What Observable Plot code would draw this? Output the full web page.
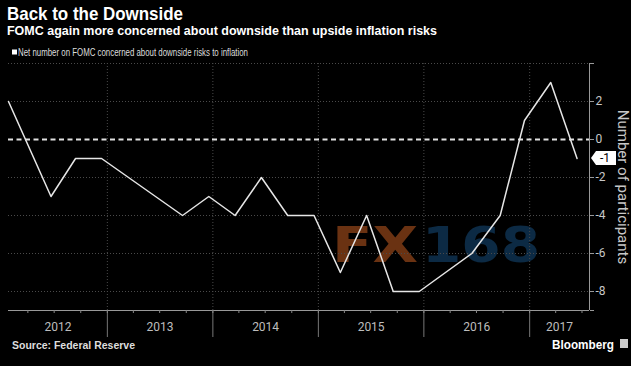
<!DOCTYPE html>
<html><head><meta charset="utf-8">
<script src="https://cdn.jsdelivr.net/npm/d3@7"></script>
<script src="https://cdn.jsdelivr.net/npm/@observablehq/plot@0.6"></script>
<style>
html,body{margin:0;padding:0;background:#000;}
#wrap{position:relative;width:631px;height:366px;overflow:hidden;background:#000;}
#wm{position:absolute;left:0;top:60px;z-index:0;}
#header{position:absolute;left:0;top:0;z-index:1;}
#chart{position:absolute;left:0;top:60px;z-index:1;}
#footer{position:absolute;left:0;top:338px;z-index:1;}
svg{display:block;}
</style></head>
<body><div id="wrap"><div id="header"></div><div id="wm"></div><div id="chart"></div><div id="footer"></div></div>
<script>
// ---- data ----
const meetingDates = ["2012-01-25","2012-06-20","2012-09-13","2012-12-12","2013-09-18","2013-12-18","2014-03-19","2014-06-18","2014-09-17","2014-12-17","2015-03-18","2015-06-17","2015-09-17","2015-12-16","2016-06-15","2016-09-21","2016-12-14","2017-03-15","2017-06-14"];
const netDownside = [2,-3,-1,-1,-4,-3,-4,-2,-4,-4,-7,-4,-8,-8,-6,-4,1,3,-1];
const years = [2012,2013,2014,2015,2016,2017];
const yTickLabels = [2,0,-2,-4,-6,-8];
const yGridValues = [4,2,-2,-4,-6,-8];
const xDomain = [new Date("2012-01-25"), new Date("2017-07-27")];
const yDomain = [-9, 4];

const data = meetingDates.map((d,i)=>({date:new Date(d), value:netDownside[i]}));
const last = data[data.length-1];
const yearStarts = years.slice(1).map(y=>new Date(Date.UTC(y,0,1)));
const quarters = d3.utcMonth.every(3).range(xDomain[0], xDomain[1]);
const yearLabels = years.map(y=>{
  const a = Math.max(Date.UTC(y,0,1), +xDomain[0]);
  const b = Math.min(Date.UTC(y+1,0,1), +xDomain[1]);
  return {year:String(y), date:new Date((a+b)/2)};
});

const chart = Plot.plot({
  width:631, height:278,
  marginTop:3, marginBottom:28, marginLeft:8, marginRight:42,
  style:{background:"transparent", color:"#c8c8c8", fontFamily:"Roboto, sans-serif", fontSize:"12px"},
  x:{type:"utc", domain:xDomain, axis:null},
  y:{domain:yDomain, axis:null},
  marks:[
    Plot.ruleY(yGridValues, {stroke:"#4a4a4a", strokeDasharray:"1,2"}),
    Plot.ruleX(yearStarts, {stroke:"#4a4a4a", strokeDasharray:"1,2"}),
    Plot.ruleY([0], {stroke:"#e0e0e0", strokeWidth:1.8, strokeDasharray:"5,3.5"}),
    Plot.line(data, {x:"date", y:"value", stroke:"#e6e6e6", strokeWidth:1.5}),
    Plot.ruleY([yDomain[0]], {stroke:"#999"}),
    Plot.ruleX([xDomain[1]], {stroke:"#999"}),
    Plot.axisX({ticks:yearStarts, tickSize:27, tickFormat:()=>"", stroke:"#777"}),
    Plot.axisX({ticks:quarters, tickSize:3, tickFormat:()=>"", stroke:"#888"}),
    Plot.text(yearLabels, {x:"date", frameAnchor:"bottom", dy:20, text:"year", fill:"#bdbdbd", fontSize:12}),
    Plot.axisY({anchor:"right", ticks:yTickLabels, tickSize:4, tickPadding:2, tickFormat:d=>String(d), label:null, stroke:"#999", fill:"#c8c8c8", fontSize:12}),
    Plot.axisY({anchor:"right", ticks:[yDomain[1], yDomain[0]], tickSize:4, tickFormat:()=>"", label:null, stroke:"#999"}),
    Plot.text(["Number of participants"], {frameAnchor:"right", textAnchor:"middle", dx:33, rotate:90, fontSize:15, fill:"#c8c8c8"}),
    (index, scales, values, dims) => {
      const g = d3.create("svg:g");
      const yy = scales.y(last.value);
      const x0 = dims.width - dims.marginRight;
      g.append("path").attr("d", `M${x0+2},${yy} L${x0+7},${yy-7} L${x0+27},${yy-7} L${x0+27},${yy+7} L${x0+7},${yy+7} Z`).attr("fill","#fff");
      g.append("text").attr("x", x0+16).attr("y", yy).attr("dy","0.36em").attr("text-anchor","middle")
        .attr("fill","#000").attr("font-size",12).attr("font-family","Roboto, sans-serif").text(String(last.value));
      return g.node();
    }
  ]
});
document.getElementById("chart").append(chart);

function mk(sel, h, fam){
  return d3.select(sel).append("svg").attr("width",631).attr("height",h)
    .attr("font-family", fam);
}
function txt(svg, s, x, y, size, w, fill, bold){
  return svg.append("text").attr("x",x).attr("y",y).attr("font-size",size)
    .attr("font-weight", bold ? "bold" : "normal").attr("fill",fill)
    .attr("textLength",w).attr("lengthAdjust","spacingAndGlyphs").text(s);
}
// watermark (behind the chart)
const wm = mk("#wm", 278, "'DejaVu Sans', sans-serif");
txt(wm, "FX", 332, 202, 50, 86, "#6a3212", true);
txt(wm, "168", 422, 202, 50, 118, "#0c2a44", true);
// header
const hd = mk("#header", 60, "'Liberation Sans', Arial, sans-serif");
txt(hd, "Back to the Downside", 7, 19.5, 18.5, 176, "#fff", true);
txt(hd, "FOMC again more concerned about downside than upside inflation risks", 7, 35.3, 13, 430, "#fff", true);
hd.append("rect").attr("x",12).attr("y",49.5).attr("width",5).attr("height",5).attr("fill","#fff");
txt(hd, "Net number on FOMC concerned about downside risks to inflation", 18, 55.5, 10, 230, "#ddd", false);
// footer
const ft = mk("#footer", 28, "'Liberation Sans', Arial, sans-serif");
txt(ft, "Source: Federal Reserve", 12, 10.5, 11, 123, "#ddd", true);
txt(ft, "Bloomberg", 552, 11, 13, 62, "#fff", true);
ft.append("rect").attr("x",620).attr("y",1).attr("width",8).attr("height",9).attr("fill","#ccc");
</script>
</body></html>
